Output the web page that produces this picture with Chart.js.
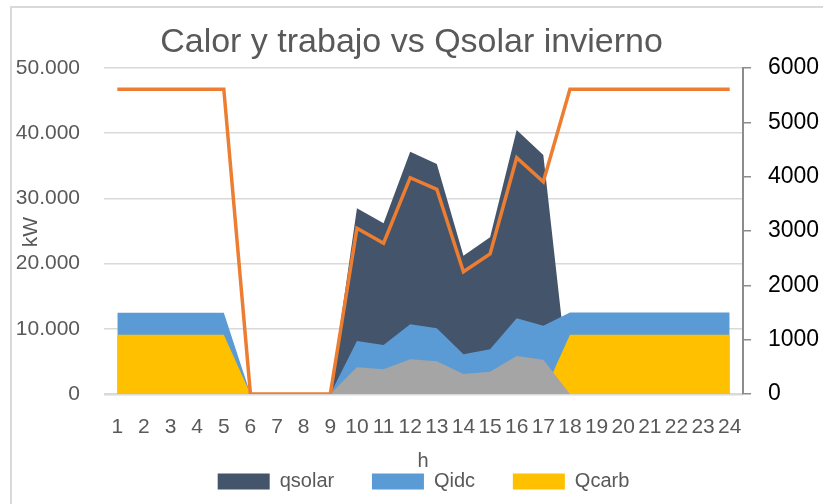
<!DOCTYPE html>
<html>
<head>
<meta charset="utf-8">
<script src="https://cdn.jsdelivr.net/npm/chart.js@4"></script>
<style>
  html, body { margin: 0; padding: 0; background: #fff; }
  canvas { display: block; }
</style>
</head>
<body>
<canvas id="chart" width="823" height="504"></canvas>
<script>
// horas del dia
const hours = ['1', '2', '3', '4', '5', '6', '7', '8', '9', '10', '11', '12',
  '13', '14', '15', '16', '17', '18', '19', '20', '21', '22', '23', '24'];

// kW (eje izquierdo)
const qsolar = [0, 0, 0, 0, 0, 0, 0, 0, 0, 28480, 26180, 37160, 35270, 21210, 24030, 40490, 36660, 0, 0, 0, 0, 0, 0, 0];
const qidc = [12450, 12450, 12450, 12450, 12450, 0, 0, 0, 0, 8130, 7510, 10690, 10070, 6090, 6850, 11610, 10480,
  12500, 12500, 12500, 12500, 12500, 12500, 12500];
const qcarb = [9080, 9080, 9080, 9080, 9080, 0, 0, 0, 0, 0, 0, 0, 0, 0, 0, 0, 0,
  9080, 9080, 9080, 9080, 9080, 9080, 9080];
const trabajo = [0, 0, 0, 0, 0, 0, 0, 0, 0, 4090, 3790, 5320, 5010, 3070, 3420, 5830, 5260, 0, 0, 0, 0, 0, 0, 0];

// eje derecho
const serieDerecha = [5610, 5610, 5610, 5610, 5610, 0, 0, 0, 0, 3050, 2774, 3981, 3768, 2251, 2577, 4349, 3907,
  5610, 5610, 5610, 5610, 5610, 5610, 5610];

const legendNames = ['qsolar', 'Qidc', 'Qcarb'];
const FONT = "'Liberation Sans', Arial, sans-serif";
const GREY_TEXT = '#595959';

/**
 * Formats a number with dots as thousand separators
 * @param {number} v value
 * @returns formatted string
 */
function miles(v) {
  return String(v).replace(/\B(?=(\d{3})+(?!\d))/g, '.');
}

function area(label, data, color, order) {
  return {
    type: 'line',
    label: label,
    data: data,
    yAxisID: 'y',
    backgroundColor: color,
    borderColor: color,
    borderWidth: 0,
    pointRadius: 0,
    fill: 'origin',
    tension: 0,
    order: order,
  };
}

// frame and axis titles, placed like the original
const decor = {
  id: 'decor',
  beforeDraw(chart) {
    const ctx = chart.ctx;
    ctx.save();
    ctx.strokeStyle = '#d9d9d9';
    ctx.lineWidth = 2;
    ctx.beginPath();
    ctx.moveTo(11, 504);
    ctx.lineTo(11, 7);
    ctx.lineTo(823, 7);
    ctx.stroke();
    ctx.restore();
  },
  afterDraw(chart) {
    const ctx = chart.ctx;
    ctx.save();
    ctx.fillStyle = GREY_TEXT;
    ctx.textAlign = 'center';
    ctx.textBaseline = 'middle';
    ctx.font = '20px ' + FONT;
    ctx.fillText('h', 423, 461);
    ctx.translate(31, 232);
    ctx.rotate(-Math.PI / 2);
    ctx.font = '21px ' + FONT;
    ctx.fillText('kW', 0, 0);
    ctx.restore();
  },
};

const ctx = document.getElementById('chart').getContext('2d');
const chart = new Chart(ctx, {
  data: {
    labels: hours,
    datasets: [
      {
        type: 'line',
        label: 'serie2',
        data: serieDerecha,
        yAxisID: 'y1',
        borderColor: '#ED7D31',
        backgroundColor: '#ED7D31',
        borderWidth: 3.5,
        pointRadius: 0,
        fill: false,
        tension: 0,
        order: 0,
      },
      area('trabajo', trabajo, '#A5A5A5', 1),
      area('Qcarb', qcarb, '#FFC000', 2),
      area('Qidc', qidc, '#5B9BD5', 3),
      area('qsolar', qsolar, '#44546A', 4),
    ],
  },
  options: {
    responsive: false,
    animation: false,
    layout: { padding: { left: 0, right: 0, top: 0, bottom: 2.5 } },
    plugins: {
      tooltip: { enabled: false },
      title: {
        display: true,
        text: 'Calor y trabajo vs Qsolar invierno',
        color: GREY_TEXT,
        font: { family: FONT, size: 34, weight: 'normal' },
        padding: { top: 22, bottom: 5.2 },
      },
      legend: {
        position: 'bottom',
        fullSize: false,
        labels: {
          color: GREY_TEXT,
          font: { family: FONT, size: 20 },
          boxWidth: 52,
          boxHeight: 16,
          padding: 10,
          generateLabels(chart) {
            const items = Chart.defaults.plugins.legend.labels.generateLabels(chart)
              .filter((item) => legendNames.includes(item.text));
            items.sort((a, b) => legendNames.indexOf(a.text) - legendNames.indexOf(b.text));
            items.forEach((item, i) => {
              item.lineWidth = 0;
              if (i < items.length - 1) item.text += '     ';
            });
            return items;
          },
        },
      },
    },
    scales: {
      x: {
        offset: true,
        grid: { display: false, drawTicks: false },
        border: { display: false },
        ticks: {
          color: GREY_TEXT,
          font: { family: FONT, size: 21 },
          padding: 21,
          autoSkip: false,
          maxRotation: 0,
        },
        afterFit(scale) {
          scale.height = 67.5;
        },
      },
      y: {
        position: 'left',
        min: 0,
        max: 50000,
        border: { display: false },
        grid: {
          color: '#d9d9d9',
          lineWidth: (c) => (c.tick && c.tick.value === 0 ? 2.5 : 1.5),
          drawTicks: false,
        },
        ticks: {
          stepSize: 10000,
          color: GREY_TEXT,
          font: { family: FONT, size: 21 },
          padding: 24,
          callback: (v) => miles(v),
        },
        afterFit(scale) {
          scale.width = 104;
        },
      },
      y1: {
        position: 'right',
        min: 0,
        max: 6000,
        border: { display: true, color: '#8c8c8c', width: 2 },
        grid: {
          drawOnChartArea: false,
          color: '#8c8c8c',
          tickLength: 8,
          lineWidth: 1.5,
        },
        ticks: {
          stepSize: 1000,
          color: '#000000',
          font: { family: FONT, size: 23 },
          padding: 17,
          callback: (v) => String(v),
        },
        afterFit(scale) {
          scale.width = 80;
        },
      },
    },
  },
  plugins: [decor],
});
</script>
</body>
</html>
